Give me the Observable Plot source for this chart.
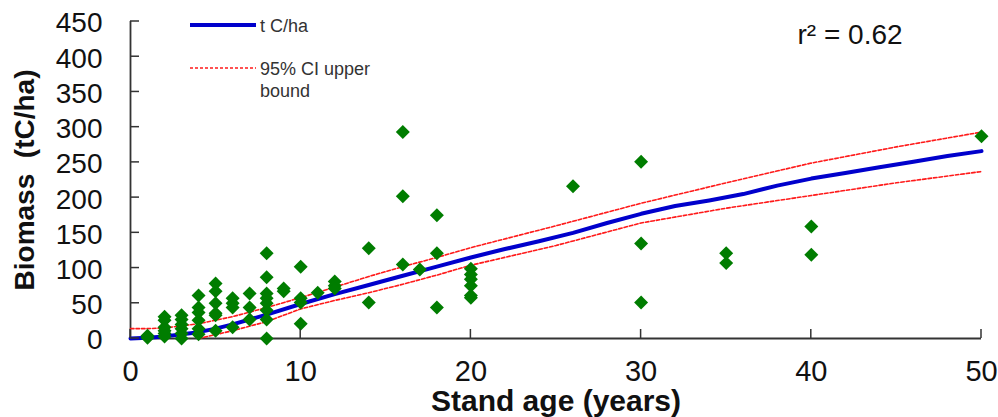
<!DOCTYPE html>
<html>
<head>
<meta charset="utf-8">
<script src="https://cdn.jsdelivr.net/npm/d3@7"></script>
<script src="https://cdn.jsdelivr.net/npm/@observablehq/plot@0.6"></script>
<style>
  html, body { margin: 0; padding: 0; background: #fff; }
  #chart { position: relative; width: 998px; height: 417px; }
  svg { font-family: "Liberation Sans", Arial, sans-serif; }
</style>
</head>
<body>
<div id="chart"></div>
<script>
// Observed plots: stand age (years) and biomass (tC/ha)
const plotAge = [
  1, 1,
  2, 2, 2, 2, 2, 2,
  3, 3, 3, 3, 3, 3,
  4, 4, 4, 4, 4, 4,
  5, 5, 5, 5, 5, 5,
  6, 6, 6, 6,
  7, 7, 7,
  8, 8, 8, 8, 8, 8, 8, 8,
  9, 9,
  10, 10, 10, 10,
  11,
  12, 12, 12,
  14, 14,
  16, 16, 16,
  17,
  18, 18, 18,
  20, 20, 20, 20, 20, 20,
  26,
  30, 30, 30,
  35, 35,
  40, 40,
  50
];
const plotBiomass = [
  4, 1,
  31, 26, 16, 11, 7, 3,
  33, 27, 20, 14, 7, 0,
  61, 44, 37, 26, 14, 6,
  78, 67, 50, 36, 33, 11,
  57, 50, 44, 16,
  64, 44, 27,
  121, 87, 64, 57, 50, 40, 27, 0,
  71, 67,
  102, 57, 51, 21,
  65,
  81, 75, 71,
  128, 51,
  293, 202, 105,
  98,
  175, 121, 44,
  99, 91, 84, 75, 61, 58,
  216,
  251, 135, 51,
  121, 107,
  159, 119,
  287
];

// Fitted curve (t C/ha)
const fitAge = [0, 1, 2, 4, 5, 6, 8, 10, 12, 14, 16, 18, 20, 22, 24, 26, 28, 30, 32, 34, 36, 38, 40, 42, 44, 46, 48, 50];
const fitBiomass = [0, 1, 3, 9, 14, 20, 34, 49, 63, 76, 89, 102, 115, 127, 138, 150, 164, 177, 188, 196, 205, 217, 227, 235, 243, 251, 259, 266];

// 95% confidence interval bounds
const ciUpperAge = [0, 1, 2, 4, 6, 8, 10, 12, 14, 16, 18, 20, 25, 30, 35, 40, 45, 50];
const ciUpper = [14, 14, 15, 21, 31, 44, 58, 73, 88, 102, 115, 129, 160, 192, 221, 249, 272, 293];
const ciLowerAge = [4, 6, 8, 10, 12, 14, 16, 18, 20, 25, 30, 35, 40, 45, 50];
const ciLower = [0, 11, 24, 42, 54, 65, 77, 90, 104, 132, 164, 185, 203, 221, 237];

// Axis ticks and labels
const xTicks = [0, 10, 20, 30, 40, 50];
const yTicks = [0, 50, 100, 150, 200, 250, 300, 350, 400, 450];
const xTitle = "Stand age (years)";
const yTitle = "Biomass\u00a0\u00a0(tC/ha)";
const r2Label = "r\u00b2 = 0.62";
const legendFit = "t C/ha";
const legendCI = ["95% CI upper", "bound"];

// Build tables
const points = plotAge.map((a, i) => ({age: a, biomass: plotBiomass[i]}));
const fit = fitAge.map((a, i) => ({age: a, biomass: fitBiomass[i]}));
const upper = ciUpperAge.map((a, i) => ({age: a, biomass: ciUpper[i]}));
const lower = ciLowerAge.map((a, i) => ({age: a, biomass: ciLower[i]}));

const axisColor = "#333";
const blue = "#0000cc";
const red = "#ff1a1a";
const green = "#007d00";

const svg = Plot.plot({
  width: 998,
  height: 417,
  marginLeft: 130,
  marginRight: 17,
  marginTop: 21,
  marginBottom: 79,
  x: {domain: [0, 50], label: null},
  y: {domain: [0, 450], label: null},
  style: {fontFamily: "'Liberation Sans', Arial, sans-serif", color: "#111", background: "#fff"},
  marks: [
    // axis labels
    Plot.axisY({ticks: yTicks, tickSize: 0, tickPadding: 28, fontSize: 28, dy: 2, fill: "#111"}),
    Plot.axisX({ticks: xTicks, tickSize: 0, tickPadding: 22, fontSize: 29, fill: "#111"}),
    // axis lines
    Plot.ruleX([0], {stroke: axisColor, strokeWidth: 1.8}),
    Plot.ruleY([0], {stroke: axisColor, strokeWidth: 1.8}),
    // CI and fit
    Plot.line(upper, {x: "age", y: "biomass", stroke: red, strokeWidth: 1.6, strokeDasharray: "3.5,2"}),
    Plot.line(lower, {x: "age", y: "biomass", stroke: red, strokeWidth: 1.6, strokeDasharray: "3.5,2"}),
    Plot.line(fit, {x: "age", y: "biomass", stroke: blue, strokeWidth: 4}),
    // observations
    Plot.dot(points, {x: "age", y: "biomass", symbol: "diamond2", r: 6.3, fill: green, stroke: "none"}),
    // titles
    Plot.text([yTitle], {frameAnchor: "left", dx: -105, rotate: -90, textAnchor: "middle", lineAnchor: "middle", fontSize: 28, fontWeight: "bold", fill: "#111"}),
    Plot.text([xTitle], {frameAnchor: "bottom", dy: 63, textAnchor: "middle", lineAnchor: "middle", fontSize: 30, fontWeight: "bold", fill: "#111"}),
    Plot.text([r2Label], {frameAnchor: "top-left", dx: 667, dy: 14, textAnchor: "start", lineAnchor: "middle", fontSize: 28, fill: "#111"})
  ]
});

// Inward tick marks, positioned through Plot's own scales
const sx = svg.scale("x"), sy = svg.scale("y");
const x0 = sx.apply(0), y0 = sy.apply(0);
const ticks = d3.select(svg).append("g").attr("stroke", axisColor).attr("stroke-width", 1.5);
yTicks.forEach(v => ticks.append("line").attr("x1", x0).attr("x2", x0 + 9).attr("y1", sy.apply(v)).attr("y2", sy.apply(v)));
xTicks.forEach(v => ticks.append("line").attr("x1", sx.apply(v)).attr("x2", sx.apply(v)).attr("y1", y0).attr("y2", y0 - 9));

// Legend inside the plot area (top-left)
const g = d3.select(svg).append("g")
  .attr("font-family", "'Liberation Sans', Arial, sans-serif")
  .attr("font-size", 18).attr("fill", "#333").attr("text-anchor", "start");
g.append("line").attr("x1", 190).attr("x2", 256).attr("y1", 25).attr("y2", 25)
  .attr("stroke", blue).attr("stroke-width", 4);
g.append("text").attr("x", 260).attr("y", 32).text(legendFit);
g.append("line").attr("x1", 190).attr("x2", 256).attr("y1", 68).attr("y2", 68)
  .attr("stroke", red).attr("stroke-width", 1.3).attr("stroke-dasharray", "3,2");
legendCI.forEach((t, i) => g.append("text").attr("x", 260).attr("y", 75 + i * 22).text(t));

document.getElementById("chart").appendChild(svg);
</script>
</body>
</html>
